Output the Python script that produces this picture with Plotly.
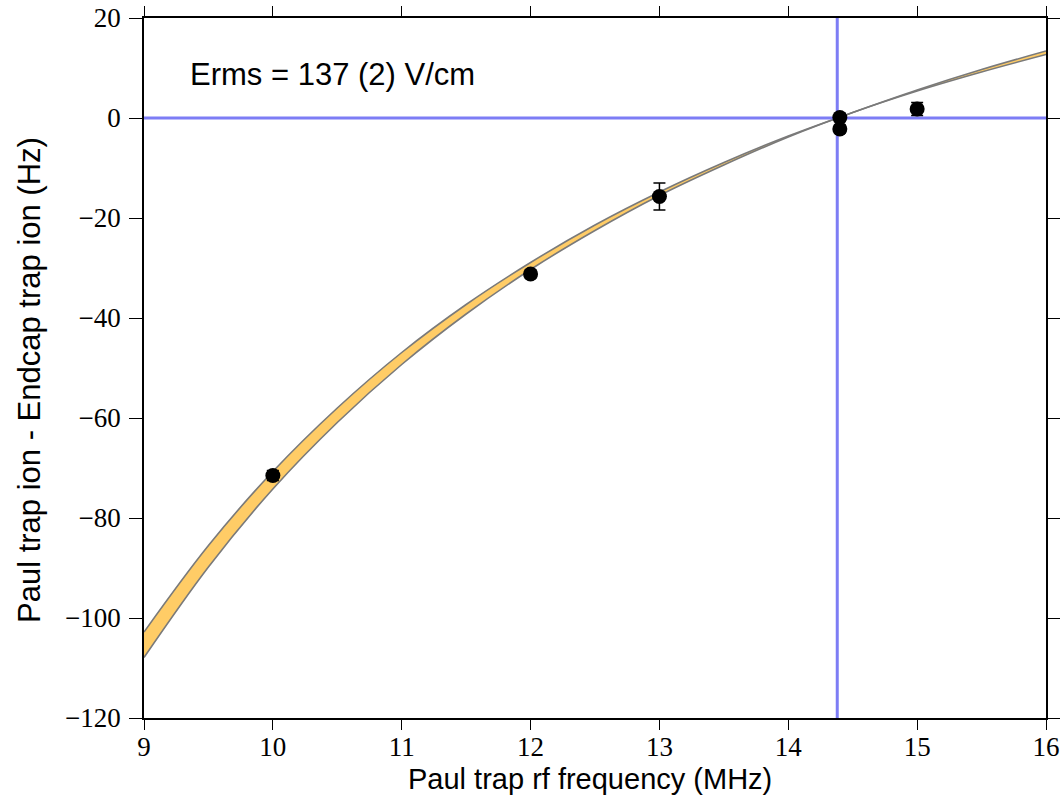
import plotly.graph_objects as go

# Band of the fitted model
band_freq = [9.0, 9.5, 10.0, 10.5, 11.0, 11.5, 12.0, 12.5, 13.0, 13.5, 14.0, 14.5, 15.0, 15.5, 16.0]
band_upper = [-102.8, -85.5, -70.7, -58.0, -46.9, -37.3, -28.9, -21.4, -14.8, -8.9, -3.6, 1.1, 5.6, 9.7, 13.4]
band_lower = [-107.9, -89.8, -74.2, -60.9, -49.3, -39.2, -30.3, -22.5, -15.5, -9.4, -3.8, 1.1, 5.4, 9.2, 12.7]

# Measured points
meas_freq = [10.0, 12.0, 13.0, 14.4, 14.4, 15.0]
meas_shift = [-71.5, -31.2, -15.7, 0.1, -2.2, 1.8]
meas_err = [1.0, 0.8, 2.7, 0.8, 0.8, 1.3]

# Reference lines
zero_shift = 0.0
magic_freq = 14.38

x_ticks = [9, 10, 11, 12, 13, 14, 15, 16]
y_ticks = [20, 0, -20, -40, -60, -80, -100, -120]
x_range = [9, 16]
y_range = [-120, 20]

label_text = "Erms = 137 (2) V/cm"
x_title = "Paul trap rf frequency (MHz)"
y_title = "Paul trap ion - Endcap trap ion (Hz)"

sans = "Liberation Sans, Arial, sans-serif"
serif = "Liberation Serif, Times New Roman, serif"

fig = go.Figure()

fig.add_trace(go.Scatter(
    x=band_freq, y=band_lower, mode="lines", line=dict(color="#7a7a7a", width=1.6, shape="spline"),
    showlegend=False, hoverinfo="skip"))
fig.add_trace(go.Scatter(
    x=band_freq, y=band_upper, mode="lines", line=dict(color="#7a7a7a", width=1.6, shape="spline"),
    fill="tonexty", fillcolor="#FFCC66", showlegend=False, hoverinfo="skip"))

blue = "rgb(125,125,245)"
fig.add_trace(go.Scatter(x=x_range, y=[zero_shift, zero_shift], mode="lines",
                         line=dict(color=blue, width=3), showlegend=False))
fig.add_trace(go.Scatter(x=[magic_freq, magic_freq], y=y_range, mode="lines",
                         line=dict(color=blue, width=3), showlegend=False))

fig.add_trace(go.Scatter(
    x=meas_freq, y=meas_shift, mode="markers",
    marker=dict(color="black", size=15, symbol="circle"),
    error_y=dict(type="data", array=meas_err, visible=True, color="black", thickness=1.5, width=6),
    showlegend=False))

fig.add_annotation(x=9.345, y=8.8, xref="x", yref="y", text=label_text, showarrow=False,
                   xanchor="left", yanchor="middle",
                   font=dict(family=sans, size=31, color="black"))

# Axis titles as annotations for precise placement
fig.add_annotation(x=0.494, y=0, xref="paper", yref="paper", text=x_title, showarrow=False,
                   xanchor="center", yanchor="middle", yshift=-61,
                   font=dict(family=sans, size=29, color="black"))
fig.add_annotation(x=0, y=0.5, xref="paper", yref="paper", text=y_title, showarrow=False,
                   xanchor="center", yanchor="middle", xshift=-115, yshift=-12, textangle=-90,
                   font=dict(family=sans, size=31, color="black"))

axis_common = dict(
    showgrid=False, zeroline=False, showline=True, linecolor="black", linewidth=1.5,
    mirror="ticks", ticks="outside", tickwidth=1.2, tickcolor="black",
    automargin=False,
    tickfont=dict(family=serif, size=27, color="black"),
)

fig.update_xaxes(range=x_range, tickvals=x_ticks, ticktext=[str(t) for t in x_ticks],
                 ticklen=10, ticklabelstandoff=-6, **axis_common)
fig.update_yaxes(range=y_range, tickvals=y_ticks, ticklen=13, ticklabelstandoff=3,
                 **axis_common)

fig.update_layout(
    width=1060, height=797,
    margin=dict(l=144, r=14, t=18, b=79),
    plot_bgcolor="white", paper_bgcolor="white",
)

fig.write_html("out.html")
